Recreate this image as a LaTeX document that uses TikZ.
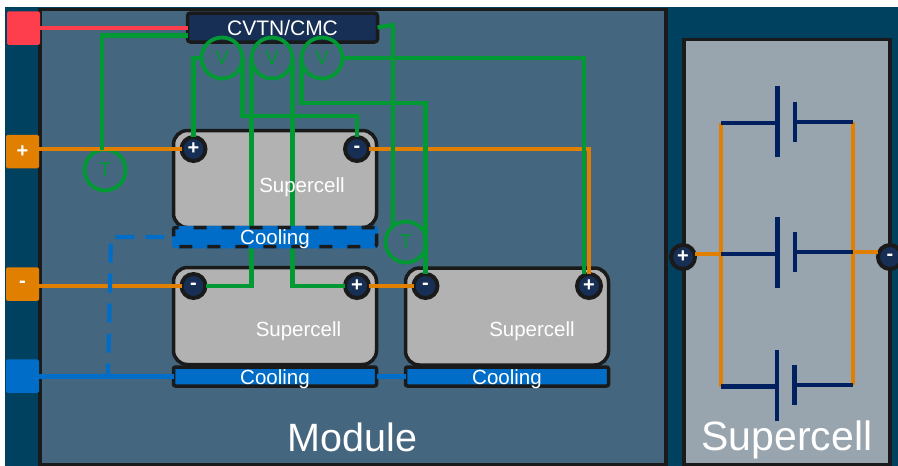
\documentclass[tikz,border=0pt]{standalone}
\usepackage{fontspec}
\setmainfont{Liberation Sans}
\definecolor{bgblue}{HTML}{00415F}
\definecolor{modfill}{HTML}{44667F}
\definecolor{panelfill}{HTML}{98A4AE}
\definecolor{ink}{HTML}{1A1A1A}
\definecolor{wireorange}{HTML}{E07F00}
\definecolor{wiregreen}{HTML}{009933}
\definecolor{coolblue}{HTML}{006EC8}
\definecolor{platenavy}{HTML}{002060}
\definecolor{cellgrey}{HTML}{B2B2B2}
\definecolor{termdark}{HTML}{172F55}
\definecolor{redbox}{HTML}{FF3E4D}
\newcommand{\fs}[1]{\fontsize{#1}{#1}\selectfont}
\tikzset{
  base/.style={inner sep=0pt,outer sep=0pt},
  frame/.style={base,rectangle,draw=ink,line width=3.8pt},
  cell/.style={base,rectangle,draw=ink,line width=3.5pt,fill=cellgrey,rounded corners=14pt,minimum width=203pt,minimum height=97pt},
  term/.style={base,circle,draw=ink,line width=4pt,fill=termdark,minimum size=24pt,text=white,font=\fs{20}\bfseries},
  meter/.style={base,circle,draw=wiregreen,line width=3.8pt,minimum size=41pt,text=wiregreen,font=\fs{20}},
  port/.style={base,rectangle,rounded corners=1.5pt,minimum width=33pt,minimum height=33.5pt,text=white,font=\fs{20}\bfseries},
  cool/.style={base,rectangle,draw=ink,line width=3.5pt,fill=coolblue,rounded corners=2pt,minimum width=203pt,minimum height=19pt},
  txt/.style={base,text=white},
  owire/.style={draw=wireorange,line width=4.4pt},
  gwire/.style={draw=wiregreen,line width=4.2pt},
  bwire/.style={draw=coolblue,line width=4.2pt},
  plate/.style={draw=platenavy,line width=4.6pt},
}
\begin{document}
\begin{tikzpicture}[x=1pt,y=-1pt]
\useasboundingbox (0,0) rectangle (898,466);
\fill[white] (0,0) rectangle (898,466);
\fill[bgblue] (5,7) rectangle (898,466);
% panels
\node[frame,fill=modfill,minimum width=626pt,minimum height=455pt] (module) at (353,237) {};
\node[frame,fill=panelfill,minimum width=206pt,minimum height=425pt] (panel) at (787,252) {};
% left ports
\node[port,fill=redbox] (pred) at (23.5,28) {};
\node[port,fill=wireorange] (pplus) at (22.5,151.5) {+};
\node[port,fill=wireorange] (pminus) at (22.5,284) {-};
\node[port,fill=coolblue] (pblue) at (22.5,376) {};
% cells
\node[cell] (cella) at (275,179) {};
\node[cell] (cellb) at (275,316) {};
\node[cell] (cellc) at (507,316.5) {};
% controller
\node[base,rectangle,draw=ink,line width=3.5pt,fill=termdark,rounded corners=3pt,minimum width=190pt,minimum height=29pt,text=white,font=\fs{21}] (cvtn) at (282.5,27.5) {CVTN/CMC};
% terminals
\node[term] (ap) at (193.5,149) {+};
\node[term] (am) at (357,149) {-};
\node[term] (bm) at (193.5,286) {-};
\node[term] (bp) at (357,286) {+};
\node[term] (cm) at (425.5,286) {-};
\node[term] (cp) at (589,286) {+};
% meters
\node[meter] (v1) at (222,58) {V};
\node[meter] (v2) at (272,58) {V};
\node[meter] (v3) at (322,58) {V};
\node[meter] (t1) at (105,170) {T};
\node[meter] (t2) at (406,242) {T};
\coordinate (kinkc) at (393,25);
% red and orange wires
\draw[draw=redbox,line width=4pt] (pred.east |- cvtn.west) -- (cvtn.west);
\draw[owire] (pplus.east |- ap.west) -- (ap.west);
\draw[owire] (am.east) -| (cp.north);
\draw[owire] (pminus.east |- bm.west) -- (bm.west);
\draw[owire] (bp.east) -- (cm.west);
% green wires
\draw[gwire] ([yshift=-8pt]cvtn.west) -| ([xshift=-3pt]t1.north);
\draw[gwire] (cvtn.east) -- (kinkc) -- (t2.130);
\draw[gwire] (v1.west) -| (ap.north);
\draw[gwire] (v1.east) -- ++(0,58) -| (am.north);
\draw[gwire] (v2.west) |- (bm.east);
\draw[gwire] (v2.east) |- (bp.west);
\draw[gwire] (v3.west) -- ++(0,45) -| (cm.north);
\draw[gwire] (v3.east) -| ([xshift=-5pt]cp.north);
% cooling
\node[cool,draw=coolblue,solid] (coola0) at (275,237) {};
\node[cool,draw=ink,dash pattern=on 13pt off 15pt,fill=none] (coola) at (275,237) {};
\node[cool] (coolb) at (275,376.5) {};
\node[cool] (coolc) at (507,376.5) {};
% blue wires
\coordinate (tee) at (108,376.5);
\coordinate (corner) at (111,237);
\draw[bwire] (pblue.east |- coolb.west) -- (coolb.west);
\draw[bwire] (coolb.east) -- (coolc.west);
\draw[bwire,dash pattern=on 19pt off 11pt,dash phase=6pt] (tee) -- (corner) -- (coola.west);
% texts
\node[txt,font=\fs{20.5}] (ta) at (302,187) {Supercell};
\node[txt,font=\fs{20.5}] (tb) at (298.5,331) {Supercell};
\node[txt,font=\fs{20.5}] (tc) at (532,331) {Supercell};
\node[txt,font=\fs{20.5}] (ca) at (275,239) {Cooling};
\node[txt,font=\fs{20.5}] (cb) at (275,379) {Cooling};
\node[txt,font=\fs{20.5}] (cc) at (507,379) {Cooling};
\node[txt,font=\fs{39.5}] (lm) at (352.5,437) {Module};
\node[txt,font=\fs{41}] (ls) at (787,439.5) {Supercell};
% supercell schematic
\coordinate (la) at (721,123);
\coordinate (lb) at (721,254);
\coordinate (lc) at (721,386.5);
\coordinate (ra) at (853,122);
\coordinate (rb) at (853,252);
\coordinate (rc) at (853,385);
\node[term] (sp) at (683,257) {+};
\node[term] (sm) at (890,257) {-};
\draw[owire] (la) -- (lc);
\draw[owire] (ra) -- (rc);
\draw[owire] (sp.east |- lb) -- (lb);
\draw[owire] (rb) -- (sm.west |- rb);
\foreach \nm/\yy/\xl/\xs in {a/121.5/777.7/795, b/252/777.7/795, c/385/777/794.5}{
  \coordinate (long\nm t) at (\xl,\yy-35.5);
  \coordinate (long\nm b) at (\xl,\yy+35.5);
  \coordinate (short\nm t) at (\xs,\yy-20);
  \coordinate (short\nm b) at (\xs,\yy+20);
  \draw[plate] (long\nm t) -- (long\nm b);
  \draw[plate] (short\nm t) -- (short\nm b);
  \draw[plate] (l\nm) -- (long\nm t |- l\nm);
  \draw[plate] (short\nm t |- r\nm) -- (r\nm);
}
\end{tikzpicture}
\end{document}
